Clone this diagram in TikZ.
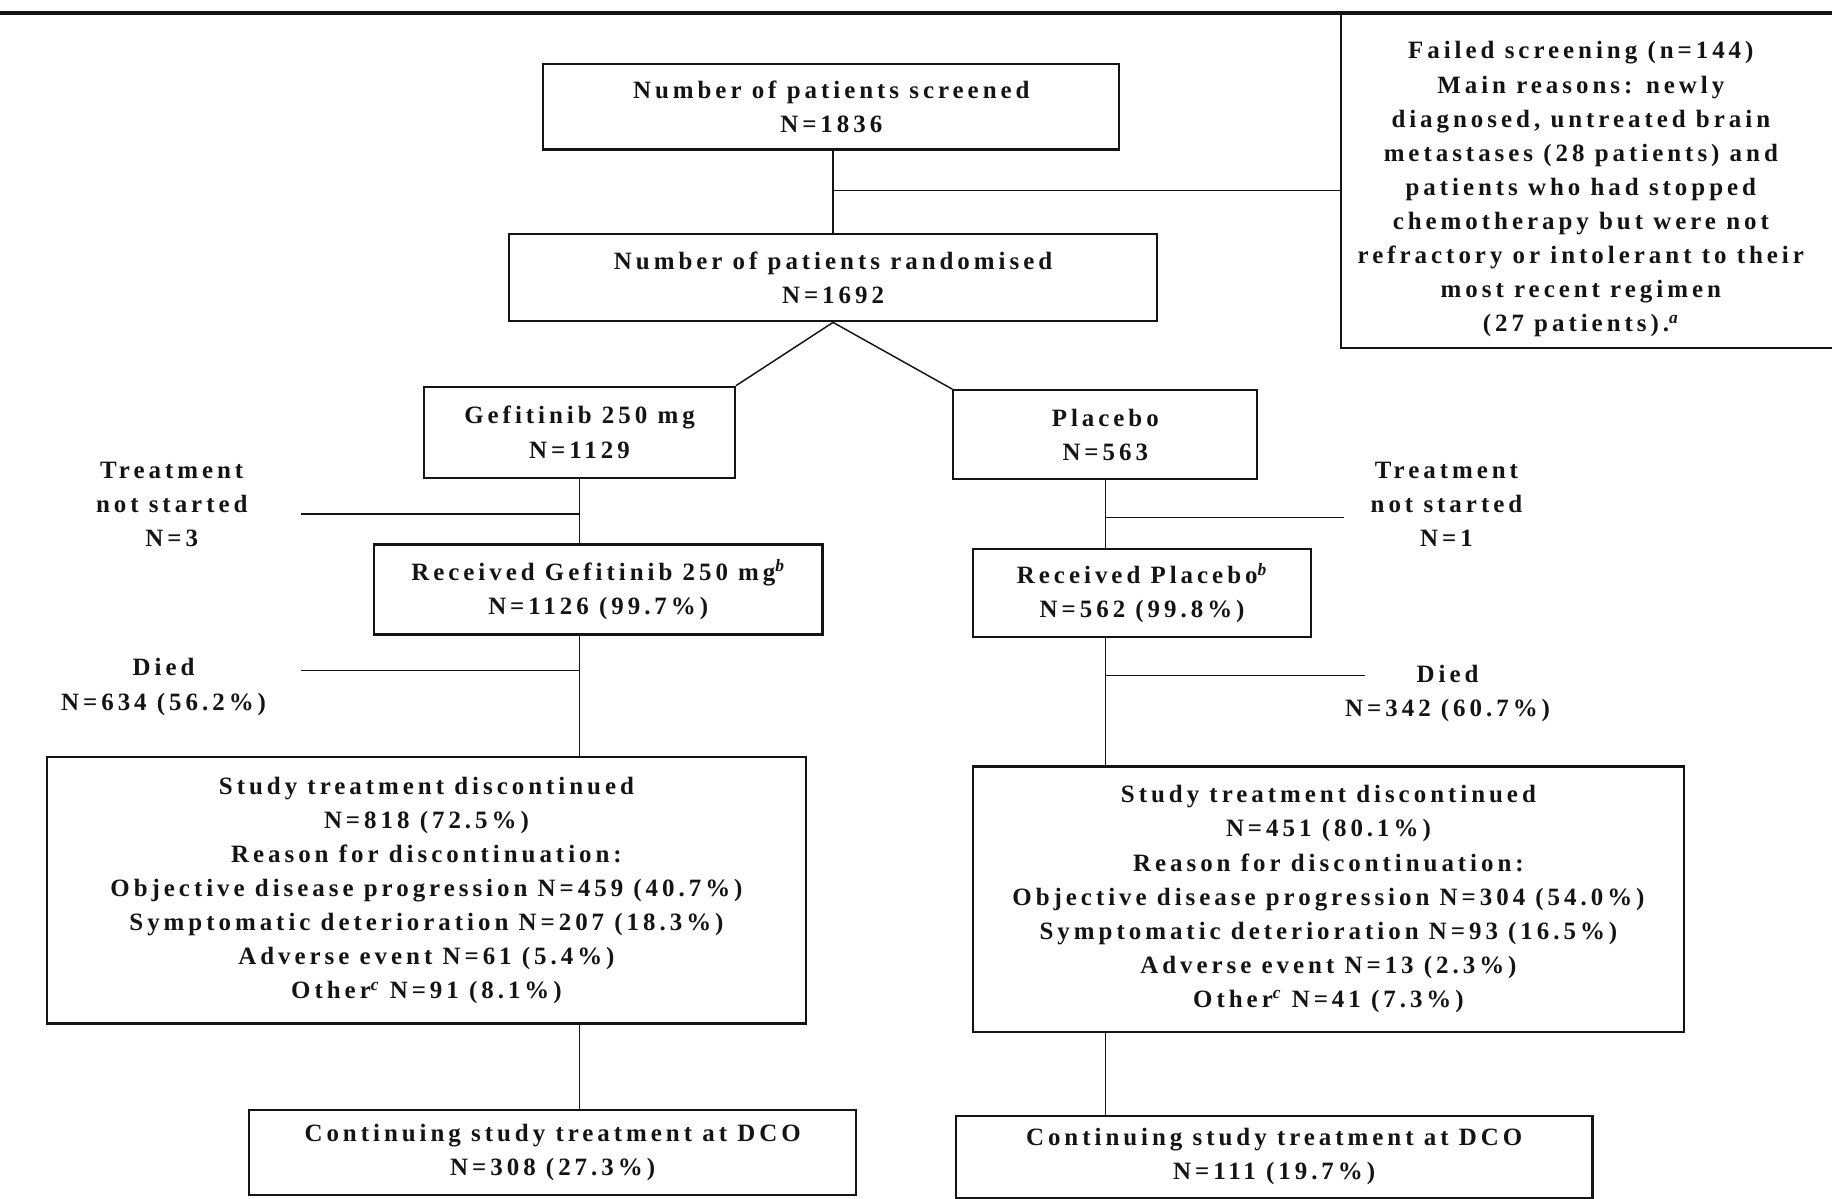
\documentclass[tikz,border=0pt]{standalone}
\usepackage{fontspec}
\setmainfont{Liberation Serif}[LetterSpace=16]
\usetikzlibrary{positioning}
\definecolor{ScanInk}{HTML}{141414}

\begin{document}
\begin{tikzpicture}[x=0.6pt,y=-0.6pt,
  box/.style={draw=ScanInk,line width=1.1pt,align=center,inner sep=0pt,text=ScanInk,font=\bfseries\fontsize{12.8}{17.5}\selectfont},
  note/.style={align=center,inner sep=0pt,text=ScanInk,font=\bfseries\fontsize{12.8}{17.5}\selectfont},
  link/.style={draw=ScanInk,line width=0.75pt}
]
\fill[white] (0,0) rectangle (1568,1026);
\useasboundingbox (0,0) rectangle (1568,1026);
\draw[ScanInk,line width=2pt] (0,11) -- (1568,11);

% screening and randomisation
\node[box,minimum width=295.8pt,minimum height=43.8pt] (scr) at (711.5,91.5) {Number of patients screened\\N=1836};
\node[box,minimum width=332.4pt,minimum height=45pt] (rand) at (713,237.5) {Number of patients randomised\\N=1692};
\node[box,minimum width=253.2pt,minimum height=172.2pt] (fail) at (1359,154.5) {};
\node[note] (failtext) at (1353,162) {Failed screening (n=144)\\Main reasons: newly\\diagnosed, untreated brain\\metastases (28 patients) and\\patients who had stopped\\chemotherapy but were not\\refractory or intolerant to their\\most recent regimen\\(27 patients).\textsuperscript{\itshape a}};

% arms
\node[box,minimum width=159.6pt,minimum height=46.8pt] (gef) at (496,370) {Gefitinib 250 mg\\N=1129};
\node[box,minimum width=156pt,minimum height=45.6pt] (pla) at (946,372) {Placebo\\N=563};
\node[box,minimum width=230.4pt,minimum height=46.2pt] (recg) at (512,504.5) {Received Gefitinib 250 mg\textsuperscript{\itshape b}\\N=1126 (99.7\%)};
\node[box,minimum width=173.4pt,minimum height=45pt] (recp) at (977.5,507.5) {Received Placebo\textsuperscript{\itshape b}\\N=562 (99.8\%)};
\node[box,minimum width=390pt,minimum height=136.8pt] (stdg) at (365,762) {Study treatment discontinued\\N=818 (72.5\%)\\Reason for discontinuation:\\Objective disease progression N=459 (40.7\%)\\Symptomatic deterioration N=207 (18.3\%)\\Adverse event N=61 (5.4\%)\\Other\textsuperscript{\itshape c} N=91 (8.1\%)};
\node[box,minimum width=364.8pt,minimum height=136.2pt] (stdp) at (1137,769.5) {Study treatment discontinued\\N=451 (80.1\%)\\Reason for discontinuation:\\Objective disease progression N=304 (54.0\%)\\Symptomatic deterioration N=93 (16.5\%)\\Adverse event N=13 (2.3\%)\\Other\textsuperscript{\itshape c} N=41 (7.3\%)};
\node[box,minimum width=312pt,minimum height=43.8pt] (cong) at (473,986.5) {Continuing study treatment at DCO\\N=308 (27.3\%)};
\node[box,minimum width=327pt,minimum height=42pt] (conp) at (1090.5,990) {Continuing study treatment at DCO\\N=111 (19.7\%)};

% side notes
\node[note] (tnsg) at (147,432) {Treatment\\not started\\N=3};
\node[note] (tnsp) at (1238,432) {Treatment\\not started\\N=1};
\node[note] (diedg) at (140,588) {Died\\N=634 (56.2\%)};
\node[note] (diedp) at (1239,593.5) {Died\\N=342 (60.7\%)};
\coordinate (jf) at (713,163);
\coordinate (jtg) at (258,440);
\coordinate (jtp) at (1150,443);
\coordinate (jdg) at (258,574);
\coordinate (jdp) at (1168,578);

% connectors
\draw[link] (rand.north |- scr.south) -- (rand.north);
\draw[link] (jf) -- (jf -| fail.west);
\draw[link] (rand.south) -- (gef.north east);
\draw[link] (rand.south) -- (pla.north west);
\draw[link] (gef.south) -- (gef.south |- recg.north);
\draw[link] (recg.south -| gef.south) -- (gef.south |- stdg.north);
\draw[link] (stdg.south -| gef.south) -- (gef.south |- cong.north);
\draw[link] (jtg) -- (jtg -| gef.south);
\draw[link] (jdg) -- (jdg -| gef.south);
\draw[link] (pla.south) -- (pla.south |- recp.north);
\draw[link] (recp.south -| pla.south) -- (pla.south |- stdp.north);
\draw[link] (stdp.south -| pla.south) -- (pla.south |- conp.north);
\draw[link] (jtp) -- (jtp -| pla.south);
\draw[link] (jdp) -- (jdp -| pla.south);
\end{tikzpicture}
\end{document}
